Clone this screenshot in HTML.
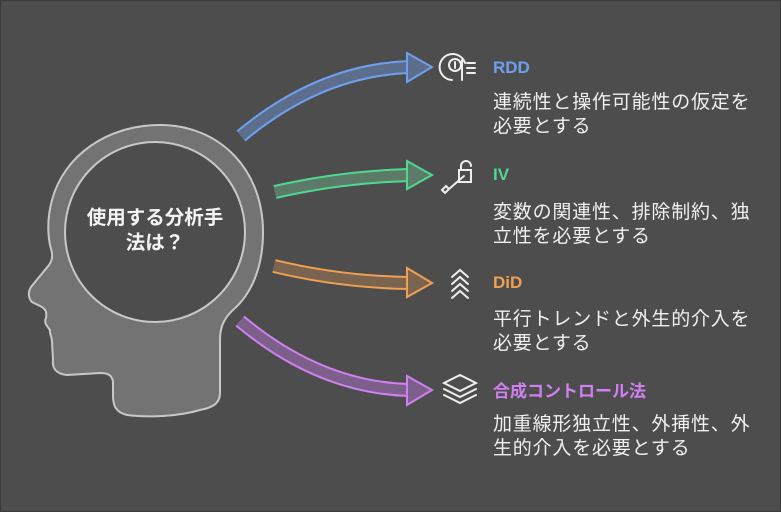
<!DOCTYPE html>
<html><head><meta charset="utf-8"><style>
body{margin:0;width:781px;height:512px;background:#4d4d4d;overflow:hidden;font-family:"Liberation Sans","Noto Sans CJK JP",sans-serif;}
.t{position:absolute;left:493px;font-weight:bold;font-size:17px;}
.d{position:absolute;left:493px;color:#f0f0f0;font-size:19px;line-height:24px;white-space:nowrap;letter-spacing:0.8px;}
</style></head><body>
<svg width="781" height="512" style="position:absolute;left:0;top:0">
<rect x="0.5" y="0.5" width="780" height="511" fill="none" stroke="#3a3a3a"/>
<path d="M160,125 C220,125 263,170 263,232 C263,270 250,295 233,310 C222,320 220,330 220,340 L220,393 C220,405 210,408 200,410 C180,416 150,418 127,415 C115,412 113,405 113,395 L113,382 C112,375 108,373 100,373 L67,375 C56,374 52,368 53,360 L52,342 C52,336 49,333 50,330 C46,325 44,322 46,318 C47,312 46,309 40,306 L32,302 C28,298 28,292 31,287 L49,265 C54,258 52,252 50,245 C47,230 48,215 52,200 C64,155 108,125 160,125 Z" fill="#737373" stroke="#c8c8c8" stroke-width="2"/>
<circle cx="155" cy="232" r="90" fill="#4d4d4d" stroke="#c8c8c8" stroke-width="2"/>
<g stroke-linejoin="miter">
<path d="M241,136 Q320,70 410,67" fill="none" stroke="#6ea0f0" stroke-width="14"/>
<path d="M241,136 Q320,70 410,67" fill="none" stroke="#5d6d8c" stroke-width="10"/>
<polygon points="407,53 432,67 407,82" fill="#5d6d8c" stroke="#6ea0f0" stroke-width="2"/>
<path d="M275,192 Q340,177 410,175" fill="none" stroke="#50d890" stroke-width="14"/>
<path d="M275,192 Q340,177 410,175" fill="none" stroke="#5b7a68" stroke-width="10"/>
<polygon points="407,161 432,175 407,189" fill="#5b7a68" stroke="#50d890" stroke-width="2"/>
<path d="M274,266 Q340,282 410,283" fill="none" stroke="#f0a050" stroke-width="14"/>
<path d="M274,266 Q340,282 410,283" fill="none" stroke="#7a6450" stroke-width="10"/>
<polygon points="407,268 432,283 407,297" fill="#7a6450" stroke="#f0a050" stroke-width="2"/>
<path d="M240,321 Q320,388 410,390" fill="none" stroke="#d080f0" stroke-width="14"/>
<path d="M240,321 Q320,388 410,390" fill="none" stroke="#7c5f8a" stroke-width="10"/>
<polygon points="407,376 432,390 407,405" fill="#7c5f8a" stroke="#d080f0" stroke-width="2"/>
</g>
<g fill="none" stroke="#eee" stroke-width="2" stroke-linecap="round">
<path d="M452,80 A13,13 0 1 1 465,63"/><circle cx="455" cy="65" r="6"/><path d="M455,62 v6 M462,60 v20 M467,63 h8 M467,68 h8 M467,73 h8"/>
<rect x="459" y="170" width="12" height="12"/><path d="M461,170 v-4 a5,5 0 0 1 10,0"/><path d="M464,176 L449,189 M446,186 l3,3 l-4,4 l-3,-3 z"/>
<path d="M452,277 l8,-7 l8,7 M452,284 l8,-7 l8,7 M452,291 l8,-7 l8,7 M452,298 l8,-7 l8,7"/>
<path d="M444,383 l16,-8 l16,8 l-16,8 z M444,389 l16,8 l16,-8 M444,395 l16,8 l16,-8"/>
</g>
</svg>
<div style="position:absolute;left:64px;top:206px;width:182px;text-align:center;color:#f4f4f4;font-weight:bold;font-size:19.5px;line-height:25px;">使用する分析手<br>法は？</div>
<div class="t" style="top:58px;color:#6ea0f0">RDD</div>
<div class="d" style="top:91px">連続性と操作可能性の仮定を<br>必要とする</div>
<div class="t" style="top:165px;color:#50d890">IV</div>
<div class="d" style="top:201px">変数の関連性、排除制約、独<br>立性を必要とする</div>
<div class="t" style="top:273px;color:#f0a050">DiD</div>
<div class="d" style="top:308px">平行トレンドと外生的介入を<br>必要とする</div>
<div class="t" style="top:377px;color:#d080f0">合成コントロール法</div>
<div class="d" style="top:413px">加重線形独立性、外挿性、外<br>生的介入を必要とする</div>
</body></html>
